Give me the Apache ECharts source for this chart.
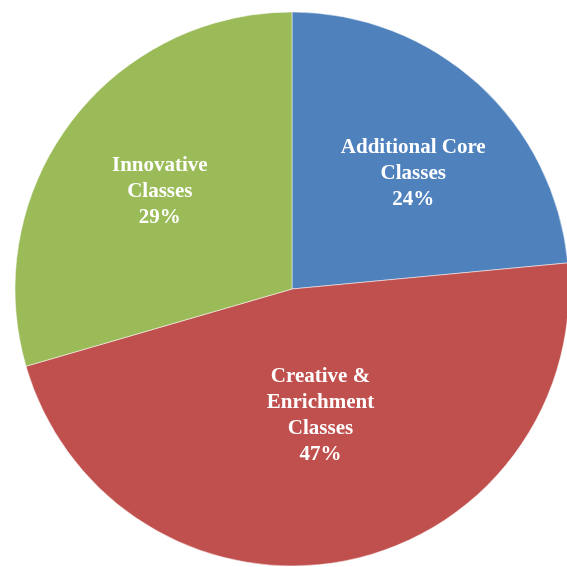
<!DOCTYPE html>
<html>
<head>
<meta charset="utf-8">
<script src="https://cdn.jsdelivr.net/npm/echarts@6/dist/echarts.min.js"></script>
<style>
html,body{margin:0;padding:0;background:#fff;}
#chart{width:567px;height:567px;}
</style>
</head>
<body>
<div id="chart"></div>
<script>
var categories = ['Additional Core\nClasses', 'Creative &\nEnrichment\nClasses', 'Innovative\nClasses'];
var values = [23.5, 47, 29.5];
var percentLabels = ['24%', '47%', '29%'];
var colors = ['#4F81BD', '#C0504D', '#9BBB59'];
var labelOffsets = [[26, -11], [2, -12], [-19, -12]];

var chart = echarts.init(document.getElementById('chart'));
var data = categories.map(function (c, i) {
  return {
    name: c,
    value: values[i],
    itemStyle: { color: colors[i] },
    label: { offset: labelOffsets[i] }
  };
});
chart.setOption({
  animation: false,
  series: [{
    type: 'pie',
    center: [292, 289],
    radius: [0, 277],
    startAngle: 90,
    clockwise: true,
    data: data,
    itemStyle: { borderColor: 'rgba(255,255,255,0.5)', borderWidth: 1 },
    label: {
      show: true,
      position: 'inside',
      formatter: function (p) { return p.name + '\n' + percentLabels[p.dataIndex]; },
      color: '#ffffff',
      fontFamily: 'Liberation Serif',
      fontWeight: 'bold',
      fontSize: 21,
      lineHeight: 26,
      align: 'center'
    },
    labelLine: { show: false },
    emphasis: { disabled: true }
  }]
});
</script>
</body>
</html>
